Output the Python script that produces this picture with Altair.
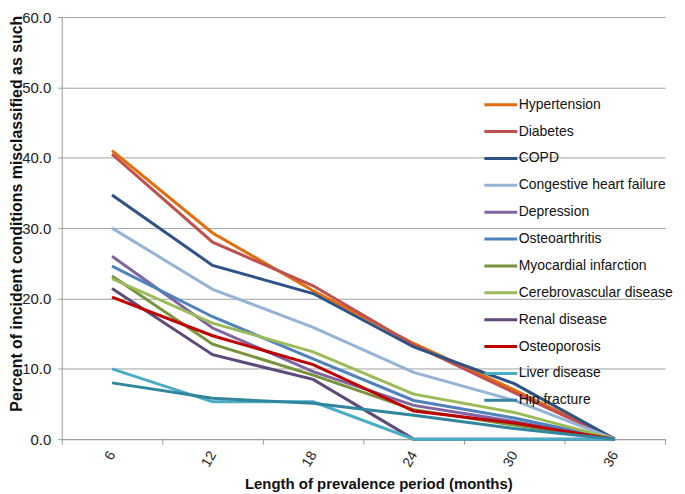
import altair as alt
import pandas as pd

months = ["6", "12", "18", "24", "30", "36"]
conditions = [
    "Hypertension", "Diabetes", "COPD", "Congestive heart failure",
    "Depression", "Osteoarthritis", "Myocardial infarction",
    "Cerebrovascular disease", "Renal disease", "Osteoporosis",
    "Liver disease", "Hip fracture",
]
hypertension = [41.0, 29.3, 21.1, 13.6, 7.0, 0.0]
diabetes = [40.5, 28.0, 21.8, 13.4, 6.6, 0.0]
copd = [34.7, 24.7, 20.7, 13.1, 7.9, 0.0]
chf = [30.0, 21.3, 15.9, 9.5, 5.5, 0.0]
depression = [26.0, 15.8, 9.6, 4.8, 2.5, 0.0]
osteoarthritis = [24.6, 17.4, 11.4, 5.5, 3.0, 0.0]
myocardial = [23.2, 13.5, 9.1, 4.2, 2.0, 0.0]
cerebrovascular = [22.8, 16.5, 12.4, 6.4, 3.8, 0.0]
renal = [21.4, 12.0, 8.5, 0.0, 0.0, 0.0]
osteoporosis = [20.2, 14.7, 10.6, 4.0, 2.3, 0.0]
liver = [10.0, 5.3, 5.3, 0.0, 0.0, 0.0]
hip = [8.0, 5.8, 5.1, 3.4, 1.5, 0.0]
series = [hypertension, diabetes, copd, chf, depression, osteoarthritis,
          myocardial, cerebrovascular, renal, osteoporosis, liver, hip]
colors = ["#E46C0A", "#C0504D", "#2C5286", "#95B3D7", "#8064A2", "#4F81BD",
          "#77933C", "#9BBB59", "#5F497A", "#C00000", "#4BACC6", "#31859C"]
y_ticks = [0, 10, 20, 30, 40, 50, 60]

rows = []
for i, (name, vals) in enumerate(zip(conditions, series)):
    for m, v in zip(months, vals):
        rows.append({"month": m, "condition": name, "pct": v, "k": i})
df = pd.DataFrame(rows)

font = "Liberation Sans"

chart = alt.Chart(df).mark_line(strokeWidth=3).encode(
    x=alt.X("month:N", sort=months,
            scale=alt.Scale(type="band", paddingInner=0, paddingOuter=0),
            axis=alt.Axis(title="Length of prevalence period (months)",
                          labelAngle=-60, labelAlign="right", labelBaseline="middle",
                          tickBand="extent", grid=False,
                          labelFont=font, labelFontSize=14, labelColor="#222",
                          labelPadding=8,
                          titleFont=font, titleFontSize=15, titleFontWeight="bold",
                          titleColor="#111", titleX=318, titleY=50,
                          titleAlign="center", titleBaseline="alphabetic",
                          domainColor="#999", tickColor="#999", tickSize=5)),
    y=alt.Y("pct:Q", scale=alt.Scale(domain=[0, 60]),
            axis=alt.Axis(title="Percent of incident conditions misclassified as such",
                          values=y_ticks, format=".1f",
                          labelFont=font, labelFontSize=15, labelColor="#222",
                          labelPadding=7,
                          titleFont=font, titleFontSize=16, titleFontWeight="bold",
                          titleColor="#111", titleX=-45, titleY=197,
                          titleAlign="center", titleBaseline="middle",
                          gridColor="#A0A0A0", domainColor="#999", tickColor="#999",
                          tickSize=4)),
    color=alt.Color("condition:N", sort=conditions,
                    scale=alt.Scale(domain=conditions, range=colors),
                    legend=alt.Legend(title=None, orient="none", legendX=423, legendY=70,
                                      symbolType="stroke", symbolSize=1089,
                                      symbolStrokeWidth=3, labelFont=font,
                                      labelFontSize=14, labelColor="#111",
                                      labelOffset=0, labelLimit=0, rowPadding=2)),
    order=alt.Order("k:Q"),
).properties(
    width=606, height=424,
    autosize=alt.AutoSizeParams(type="none"),
    padding={"left": 54, "top": 8, "right": 12, "bottom": 53},
).configure_view(stroke=None)

chart.save("out.html", embed_options={"renderer": "svg", "actions": False})
